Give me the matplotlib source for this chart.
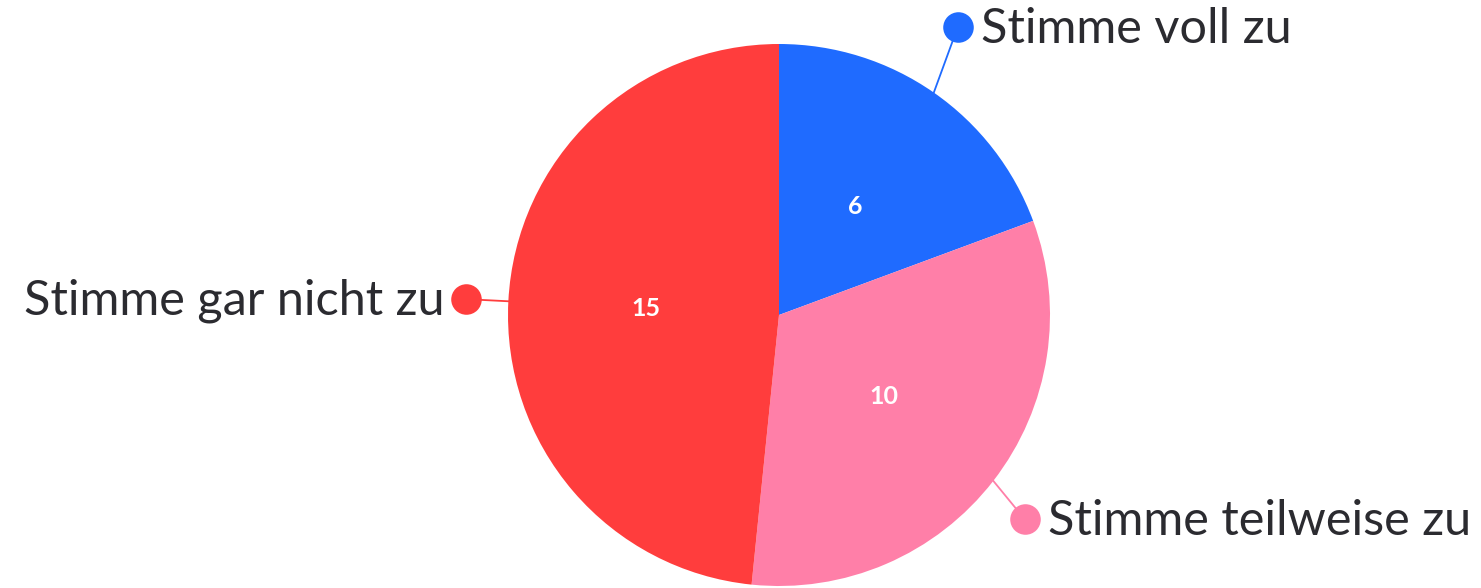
import numpy as np
import matplotlib
matplotlib.use("Agg")
import matplotlib.pyplot as plt

categories = ["Stimme voll zu", "Stimme teilweise zu", "Stimme gar nicht zu"]
values = [6, 10, 15]
colors = ["#1F6BFF", "#FF7FA8", "#FF3D3D"]

W, H = 1481, 588
fig = plt.figure(figsize=(W / 100, H / 100), dpi=100)
ax = fig.add_axes([0, 0, 1, 1])

cx, cy, R = 779, H - 315, 271
wedges, texts = ax.pie(values, colors=colors, startangle=90, counterclock=False,
                       center=(cx, cy), radius=R, labels=[str(v) for v in values],
                       labeldistance=0.49, textprops=dict(color="white", fontsize=18,
                                                          family="Lato", weight="bold"),
                       wedgeprops=dict(linewidth=0), frame=True)
ax.set_xlim(0, W)
ax.set_ylim(0, H)
ax.set_aspect("equal")
ax.axis("off")
for t in texts:
    t.set_ha("center")
    t.set_va("center")

# label layout: (radius factor for dot, angle offset deg, side)
layout = {
    "Stimme voll zu": (1.25, 3.0, "right"),
    "Stimme teilweise zu": (1.18, -2.0, "right"),
    "Stimme gar nicht zu": (1.155, 0.0, "left"),
}
txtcol = "#2B2B30"
for w, cat, col in zip(wedges, categories, colors):
    mid = np.deg2rad((w.theta1 + w.theta2) / 2)
    fac, off, side = layout[cat]
    ex, ey = cx + R * np.cos(mid), cy + R * np.sin(mid)
    a2 = mid + np.deg2rad(off)
    dx, dy = cx + fac * R * np.cos(a2), cy + fac * R * np.sin(a2)
    ax.plot([ex, dx], [ey, dy], color=col, lw=1.3, zorder=1)
    ax.plot([dx], [dy], "o", ms=22, color=col, mec="none", zorder=3)
    if side == "right":
        ax.text(dx + 23, dy - 2, cat, ha="left", va="center", fontsize=35,
                family="Lato", color=txtcol)
    else:
        ax.text(dx - 22, dy - 2, cat, ha="right", va="center", fontsize=35,
                family="Lato", color=txtcol)

fig.savefig("out.png", dpi=100, facecolor="white")
